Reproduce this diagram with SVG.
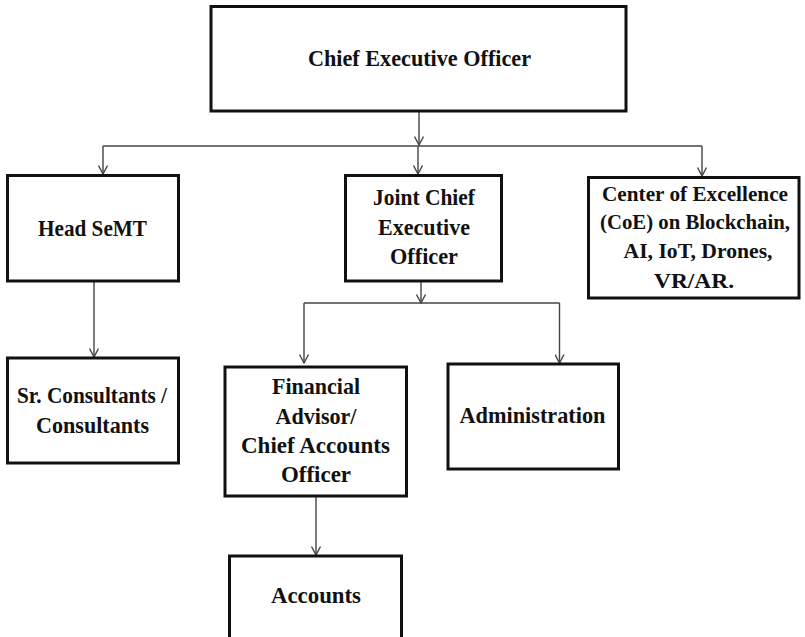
<svg xmlns="http://www.w3.org/2000/svg" width="805" height="637" viewBox="0 0 805 637">
<style>
.box{fill:#fff;stroke:#111;stroke-width:3}
.lbl{font-family:"Liberation Serif","Times New Roman",serif;font-weight:bold;font-size:24px;fill:#111;text-anchor:middle}
.sm{font-size:22px}
.con{fill:none;stroke:#444;stroke-width:1.4}
</style>
<defs>
<marker id="arr" viewBox="0 0 10 10" refX="9" refY="5" markerWidth="10" markerHeight="10" markerUnits="userSpaceOnUse" orient="auto">
<path d="M0.5,0.5 L9,5 L0.5,9.5" fill="none" stroke="#444" stroke-width="1.4"/>
</marker>
</defs>
<rect width="805" height="637" fill="#fff"/>
<g id="connectors">
<path class="con" d="M419,111 V145" marker-end="url(#arr)"/>
<path class="con" d="M103,146 H702"/>
<path class="con" d="M103,146 V174" marker-end="url(#arr)"/>
<path class="con" d="M418,146 V174" marker-end="url(#arr)"/>
<path class="con" d="M702,146 V176" marker-end="url(#arr)"/>
<path class="con" d="M94,281 V357" marker-end="url(#arr)"/>
<path class="con" d="M421,281 V303" marker-end="url(#arr)"/>
<path class="con" d="M304,303 H559.5"/>
<path class="con" d="M304,303 V363" marker-end="url(#arr)"/>
<path class="con" d="M559.5,303 V363" marker-end="url(#arr)"/>
<path class="con" d="M316,496 V555" marker-end="url(#arr)"/>
</g>
<g id="ceo">
<rect class="box" x="211" y="6.5" width="415" height="104.5"/>
<text class="lbl" x="419.5" y="66" textLength="223" lengthAdjust="spacingAndGlyphs">Chief Executive Officer</text>
</g>
<g id="head-semt">
<rect class="box" x="7.5" y="175.5" width="171" height="105.5"/>
<text class="lbl" x="92.5" y="236" textLength="109" lengthAdjust="spacingAndGlyphs">Head SeMT</text>
</g>
<g id="joint-ceo">
<rect class="box" x="345.5" y="175.5" width="156" height="105.5"/>
<text class="lbl" x="424" y="205" textLength="102" lengthAdjust="spacingAndGlyphs">Joint Chief</text>
<text class="lbl" x="424" y="235" textLength="92" lengthAdjust="spacingAndGlyphs">Executive</text>
<text class="lbl" x="424" y="264" textLength="68" lengthAdjust="spacingAndGlyphs">Officer</text>
</g>
<g id="coe">
<rect class="box" x="588.5" y="177.5" width="210.5" height="120.5"/>
<text class="lbl sm" x="695" y="201" textLength="186" lengthAdjust="spacingAndGlyphs">Center of Excellence</text>
<text class="lbl sm" x="695" y="229" textLength="190" lengthAdjust="spacingAndGlyphs">(CoE) on Blockchain,</text>
<text class="lbl sm" x="698" y="258" textLength="149" lengthAdjust="spacingAndGlyphs">AI, IoT, Drones,</text>
<text class="lbl sm" x="694" y="288" textLength="80" lengthAdjust="spacingAndGlyphs">VR/AR.</text>
</g>
<g id="consultants">
<rect class="box" x="7.5" y="358" width="171" height="105"/>
<text class="lbl" x="92" y="403" textLength="150" lengthAdjust="spacingAndGlyphs">Sr. Consultants /</text>
<text class="lbl" x="92.5" y="433" textLength="113" lengthAdjust="spacingAndGlyphs">Consultants</text>
</g>
<g id="financial-advisor">
<rect class="box" x="225" y="367" width="181.5" height="129"/>
<text class="lbl" x="316" y="394" textLength="88" lengthAdjust="spacingAndGlyphs">Financial</text>
<text class="lbl" x="316" y="424" textLength="81" lengthAdjust="spacingAndGlyphs">Advisor/</text>
<text class="lbl" x="315.5" y="453" textLength="149" lengthAdjust="spacingAndGlyphs">Chief Accounts</text>
<text class="lbl" x="316" y="482" textLength="70" lengthAdjust="spacingAndGlyphs">Officer</text>
</g>
<g id="administration">
<rect class="box" x="448" y="364" width="170.5" height="105"/>
<text class="lbl" x="532.5" y="423" textLength="146" lengthAdjust="spacingAndGlyphs">Administration</text>
</g>
<g id="accounts">
<rect class="box" x="229.5" y="556" width="172" height="86"/>
<text class="lbl" x="316" y="603" textLength="90" lengthAdjust="spacingAndGlyphs">Accounts</text>
</g>
</svg>
